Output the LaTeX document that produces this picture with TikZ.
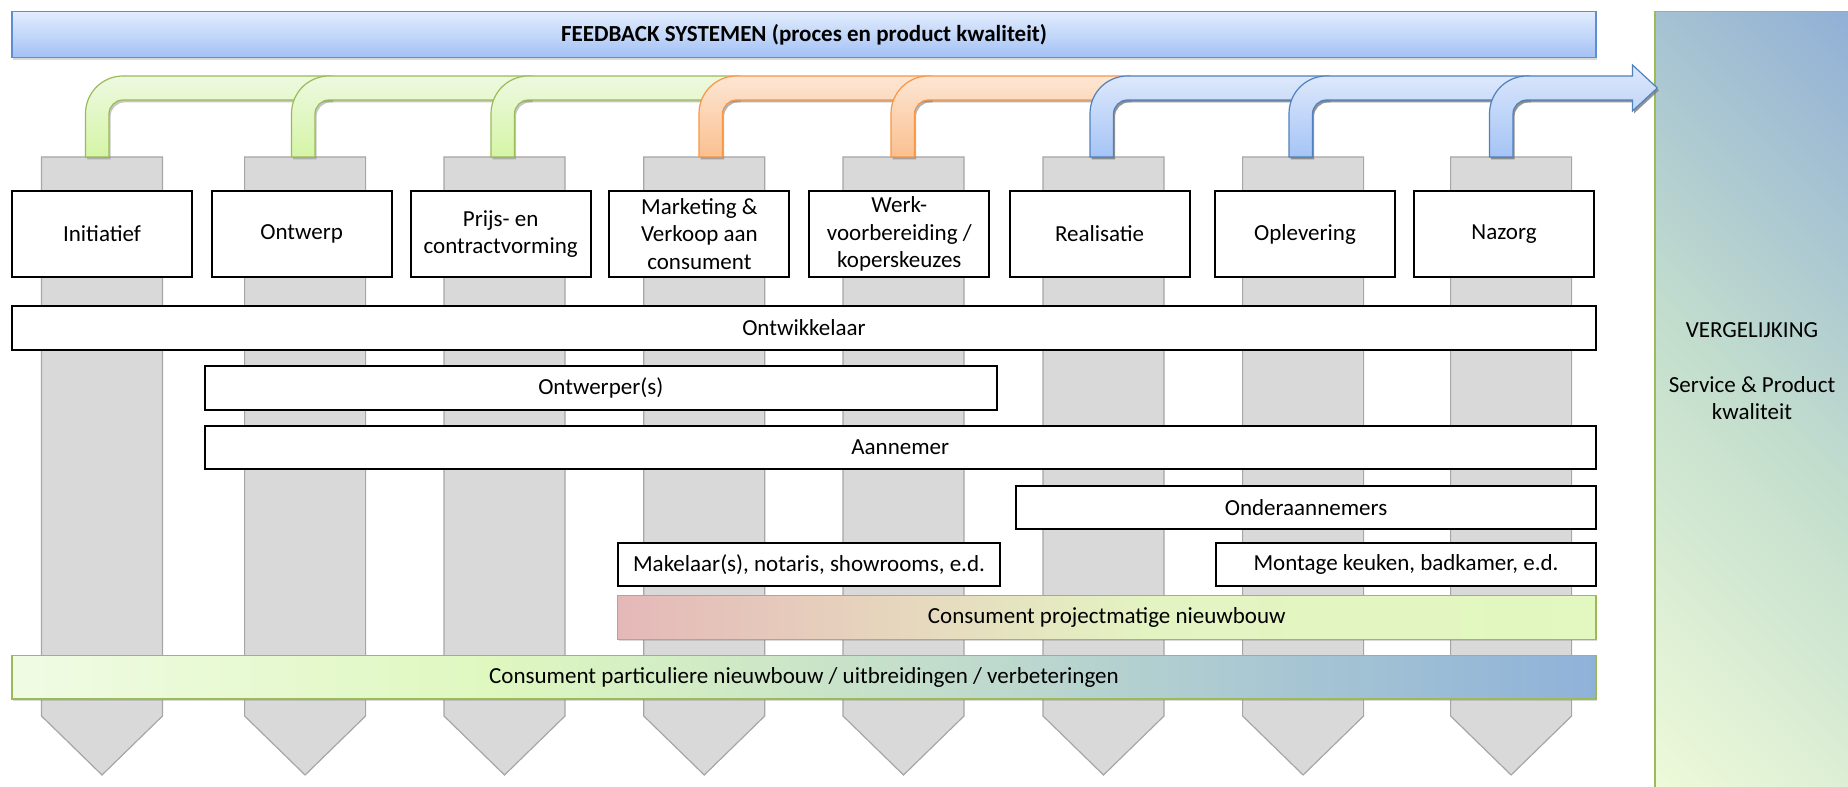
\documentclass[tikz,border=0pt]{standalone}
\usepackage{fontspec}
\setmainfont{Carlito}
\usetikzlibrary{shadows}
\definecolor{colgrey}{HTML}{D9D9D9}
\definecolor{colgreyb}{HTML}{A6A6A6}
\definecolor{bannertop}{HTML}{E2EDFD}
\definecolor{bannerbot}{HTML}{A3C1F5}
\definecolor{bannerline}{HTML}{5F8DD3}
\definecolor{gtop}{HTML}{EDF9E0}
\definecolor{gbot}{HTML}{D5F5A6}
\definecolor{gline}{HTML}{9BBB59}
\definecolor{otop}{HTML}{FDE6D4}
\definecolor{obot}{HTML}{FAC08F}
\definecolor{oline}{HTML}{F79646}
\definecolor{btop}{HTML}{DDE8FB}
\definecolor{bbot}{HTML}{A5C4F6}
\definecolor{bline}{HTML}{4F81BD}
\definecolor{pa}{HTML}{F0FBE4}
\definecolor{pb}{HTML}{DFF8C0}
\definecolor{pc}{HTML}{BED9CD}
\definecolor{pd}{HTML}{8FB2D9}
\definecolor{qa}{HTML}{E5B8B8}
\definecolor{qb}{HTML}{E6D8BE}
\definecolor{qc}{HTML}{E4F3C2}
\definecolor{qd}{HTML}{E2F8C0}
\definecolor{rtop}{HTML}{92B0D6}
\definecolor{rmid}{HTML}{C2DDCD}
\definecolor{rbot}{HTML}{EEFAD9}
\pgfdeclarehorizontalshading{partshade}{100bp}{color(0bp)=(pa); color(25bp)=(pa); color(40bp)=(pb); color(56bp)=(pc); color(75bp)=(pd); color(100bp)=(pd)}
\pgfdeclarehorizontalshading{projshade}{100bp}{color(0bp)=(qa); color(25bp)=(qa); color(40bp)=(qb); color(52bp)=(qc); color(75bp)=(qd); color(100bp)=(qd)}
\pgfdeclareverticalshading{panelshade}{100bp}{color(0bp)=(rbot); color(31bp)=(rbot); color(50bp)=(rmid); color(69bp)=(rtop); color(100bp)=(rtop)}
\tikzset{
  every node/.style={font=\fontsize{11.5}{13.75}\selectfont},
  colstyle/.style={fill=colgrey, draw=colgreyb, line width=0.6pt},
  pshadow/.style={drop shadow={shadow xshift=0.8pt, shadow yshift=-1.2pt, opacity=#1}},
  gpiece/.style={draw=gline, line width=0.6pt, top color=gtop, bottom color=gbot, pshadow=0.45},
  opiece/.style={draw=oline, line width=0.6pt, top color=otop, bottom color=obot, pshadow=0.6},
  bpiece/.style={draw=bline, line width=0.6pt, top color=btop, bottom color=bbot, pshadow=0.85},
  phasebox/.style={draw=black, line width=1pt, fill=white, minimum width=90pt, minimum height=43.3pt, inner sep=0pt, align=center},
  actorbar/.style={draw=black, line width=1pt, fill=white, minimum height=21.8pt, inner sep=0pt},
  gradbar/.style={draw=gline, line width=0.6pt, minimum height=21.8pt, inner sep=0pt, drop shadow={shadow xshift=0.6pt, shadow yshift=-1pt, opacity=0.3}},
  bannerbox/.style={draw=bannerline, line width=0.6pt, top color=bannertop, bottom color=bannerbot, minimum width=792pt, minimum height=23pt, inner sep=0pt, font=\fontsize{11.5}{13.75}\selectfont\bfseries, drop shadow={shadow xshift=0.6pt, shadow yshift=-1.2pt, opacity=0.3}}
}
\begin{document}
\begin{tikzpicture}[x=0.5pt, y=0.5pt]
\useasboundingbox (0,0) rectangle (1848,787);
% right comparison panel (diagonal gradient; extra move-to points make the shading box square)
\shade[shading=panelshade, shading angle=-45] (1655,0) rectangle (1848,775.3) (1301.5,-62.5) (2201.5,837.5);
\draw[gline, line width=0.6pt] (1655,-5) -- (1655,775.3) -- (1855,775.3);
\node[align=center, anchor=base] (verg) at (1752,367) {VERGELIJKING\\[13.75pt]Service \& Product\\kwaliteit};
% grey phase columns
\foreach \l in {41.5,244.6,444,643.75,843,1043,1242.6,1450.6} {
  \draw[colstyle] (\l,630) -- ({\l+121},630) -- ({\l+121},71) -- ({\l+60.5},12) -- (\l,71) -- cycle;
}
% bent arrow pieces
\foreach \l/\e/\s in {85.5/331.5/gpiece, 291.5/531/gpiece, 491/739/gpiece, 699/931/opiece, 891/1130/opiece, 1090/1329/bpiece, 1289/1529.5/bpiece} {
  \path[\s] (\l,630) -- (\l,673.5) arc[start angle=180, end angle=90, radius=37.5] -- (\e,711) -- (\e,687) -- ({\l+37.5},687) arc[start angle=90, end angle=180, radius=14] -- ({\l+23.5},630) -- cycle;
}
\path[bpiece] (1489.5,630) -- (1489.5,673.5) arc[start angle=180, end angle=90, radius=37.5] -- (1632.5,711) -- (1632.5,722) -- (1657.3,699) -- (1632.5,676) -- (1632.5,687) -- (1527,687) arc[start angle=90, end angle=180, radius=14] -- (1513,630) -- cycle;
% banner
\node[bannerbox] (fb) at (804,752.3) {FEEDBACK SYSTEMEN (proces en product kwaliteit)};
% phase boxes
\node[phasebox] (p1) at (102,553) {Initiatief};
\node[phasebox] (p2) at (301.6,553) {Ontwerp};
\node[phasebox] (p3) at (500.7,553) {Prijs- en\\contractvorming};
\node[phasebox] (p4) at (699.4,553) {Marketing \&\\Verkoop aan\\consument};
\node[phasebox] (p5) at (899.3,553) {Werk-\\voorbereiding /\\koperskeuzes};
\node[phasebox] (p6) at (1099.6,553) {Realisatie};
\node[phasebox] (p7) at (1305,553) {Oplevering};
\node[phasebox] (p8) at (1504,553) {Nazorg};
% actor bars
\node[actorbar, minimum width=792pt] (ontw) at (804,459) {Ontwikkelaar};
\node[actorbar, minimum width=396.25pt] (ontwp) at (600.75,399) {Ontwerper(s)};
\node[actorbar, minimum width=695.75pt] (aann) at (900.25,339.3) {Aannemer};
\node[actorbar, minimum width=290pt] (onder) at (1306,279.5) {Onderaannemers};
\node[actorbar, minimum width=191pt] (mak) at (809,222.6) {Makelaar(s), notaris, showrooms, e.d.};
\node[actorbar, minimum width=190pt] (mont) at (1406,222.6) {Montage keuken, badkamer, e.d.};
% consumer bars
\node[gradbar, shading=projshade, minimum width=489.25pt] (proj) at (1106.75,169.3) {Consument projectmatige nieuwbouw};
\node[gradbar, shading=partshade, minimum width=792pt] (part) at (804,109.8) {Consument particuliere nieuwbouw / uitbreidingen / verbeteringen};
\end{tikzpicture}
\end{document}
